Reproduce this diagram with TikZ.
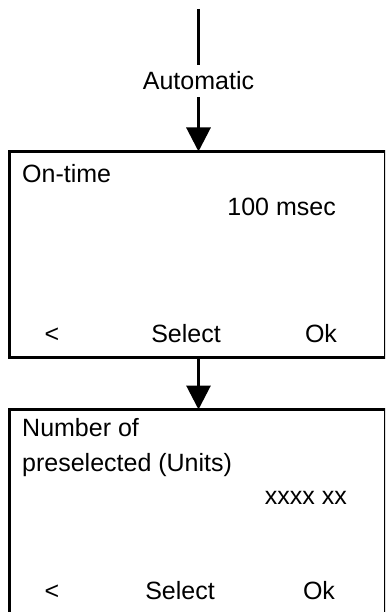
\documentclass[tikz,border=0pt]{standalone}
\usepackage{fontspec}
\setmainfont{Liberation Sans}
\usetikzlibrary{arrows.meta}
\begin{document}
\begin{tikzpicture}[x=1pt,y=-1pt,
  line/.style={line width=3pt},
  arr/.style={line width=3pt,-{Triangle[width=24pt,length=24pt]}},
  screen/.style={draw,line width=3pt,outer sep=0pt,inner sep=0pt,anchor=north west,minimum width=375.5pt},
  txt/.style={inner sep=0pt,font=\fontsize{25pt}{30pt}\selectfont}]
\useasboundingbox (0,0) rectangle (385,612);
\clip (0,0) rectangle (385,612);
\fill[white] (0,0) rectangle (385,612);
% screens
\node[screen,minimum height=205.5pt] (b1) at (9.5,151.5) {};
\node[screen,minimum height=230pt] (b2) at (9.5,409.5) {};
% connectors
\coordinate (start) at (198.5,9);
\node[txt,inner xsep=2pt,inner ysep=7pt] (auto) at (198.5,81) {Automatic};
\draw[line] (start) -- (auto.north);
\draw[arr] (auto.south) -- (start |- b1.north);
\draw[arr] (start |- b1.south) -- (start |- b2.north);
% screen 1 texts
\node[txt,anchor=base west] (t1) at (22,183) {On-time};
\node[txt,anchor=base east] (v1) at (336,215) {100 msec};
\node[txt,anchor=base] (l1) at (52,342) {<};
\node[txt,anchor=base] (s1) at (186,342) {Select};
\node[txt,anchor=base] (o1) at (321,342) {Ok};
% screen 2 texts
\node[txt,anchor=base west] (t2a) at (22,436) {Number of};
\node[txt,anchor=base west] (t2b) at (22,471) {preselected (Units)};
\node[txt,anchor=base east] (v2) at (347,504) {xxxx xx};
\node[txt,anchor=base] (l2) at (52,599) {<};
\node[txt,anchor=base] (s2) at (180,599) {Select};
\node[txt,anchor=base] (o2) at (319,599) {Ok};
\end{tikzpicture}
\end{document}
